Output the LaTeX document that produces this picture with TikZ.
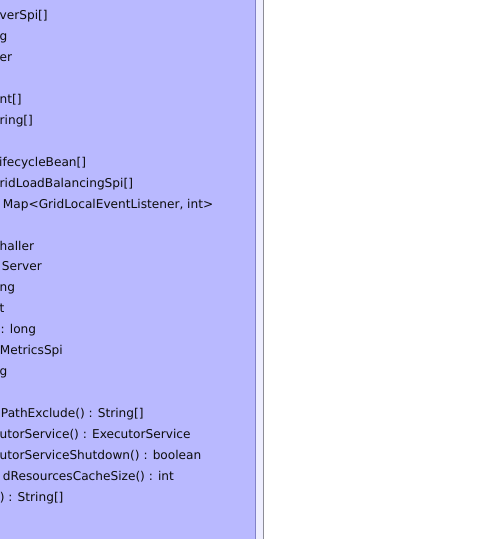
\documentclass[tikz,border=0pt]{standalone}
\usepackage{fontspec}
\setmainfont{DejaVu Sans}
\definecolor{boxfill}{RGB}{185,185,255}
\definecolor{boxedge}{RGB}{130,130,200}
\definecolor{stripfill}{RGB}{238,238,255}
\definecolor{lineedge}{RGB}{140,140,150}
\begin{document}
\begin{tikzpicture}[x=1bp,y=-1bp,
  member/.style={anchor=base west,inner sep=0pt,font=\fontsize{12.15bp}{14bp}\selectfont,text=black!95}]
\useasboundingbox (0,0) rectangle (491,539);
\fill[white] (0,0) rectangle (491,539);
\fill[boxfill] (0,0) rectangle (255.5,539);
\fill[stripfill] (255.5,0) rectangle (263,539);
\draw[boxedge,line width=1.2bp] (255.5,0) -- (255.5,539);
\draw[lineedge,line width=1bp] (263.5,0) -- (263.5,539);
\begin{scope}
\clip (0,0) rectangle (255,539);
\node[member] (m0) at (-0.5,19.5) {verSpi[]};
\node[member] (m1) at (-0.5,40.5) {g};
\node[member] (m2) at (-0.5,61.4) {er};
\node[member] (m4) at (-0.5,103.3) {nt[]};
\node[member] (m5) at (-0.5,124.3) {ring[]};
\node[member] (m7) at (-1,166.2) {ifecycleBean[]};
\node[member] (m8) at (-0.5,187.1) {ridLoadBalancingSpi[]};
\node[member] (m9) at (2.8,208.1) {Map<GridLocalEventListener, int>};
\node[member] (m11) at (-0.5,250.0) {haller};
\node[member] (m12) at (1.8,270.9) {Server};
\node[member] (m13) at (-0.5,291.9) {ng};
\node[member] (m14) at (-0.5,312.8) {t};
\node[member] (m15) at (0.5,333.8) {: long};
\node[member] (m16) at (-0.3,354.7) {MetricsSpi};
\node[member] (m17) at (-0.5,375.7) {g};
\node[member] (m19) at (0.8,417.6) {PathExclude() : String[]};
\node[member] (m20) at (-0.5,438.5) {utorService() : ExecutorService};
\node[member] (m21) at (-0.5,459.5) {utorServiceShutdown() : boolean};
\node[member] (m22) at (2.8,480.4) {dResourcesCacheSize() : int};
\node[member] (m23) at (-0.3,501.4) {) : String[]};
\end{scope}
\end{tikzpicture}
\end{document}
